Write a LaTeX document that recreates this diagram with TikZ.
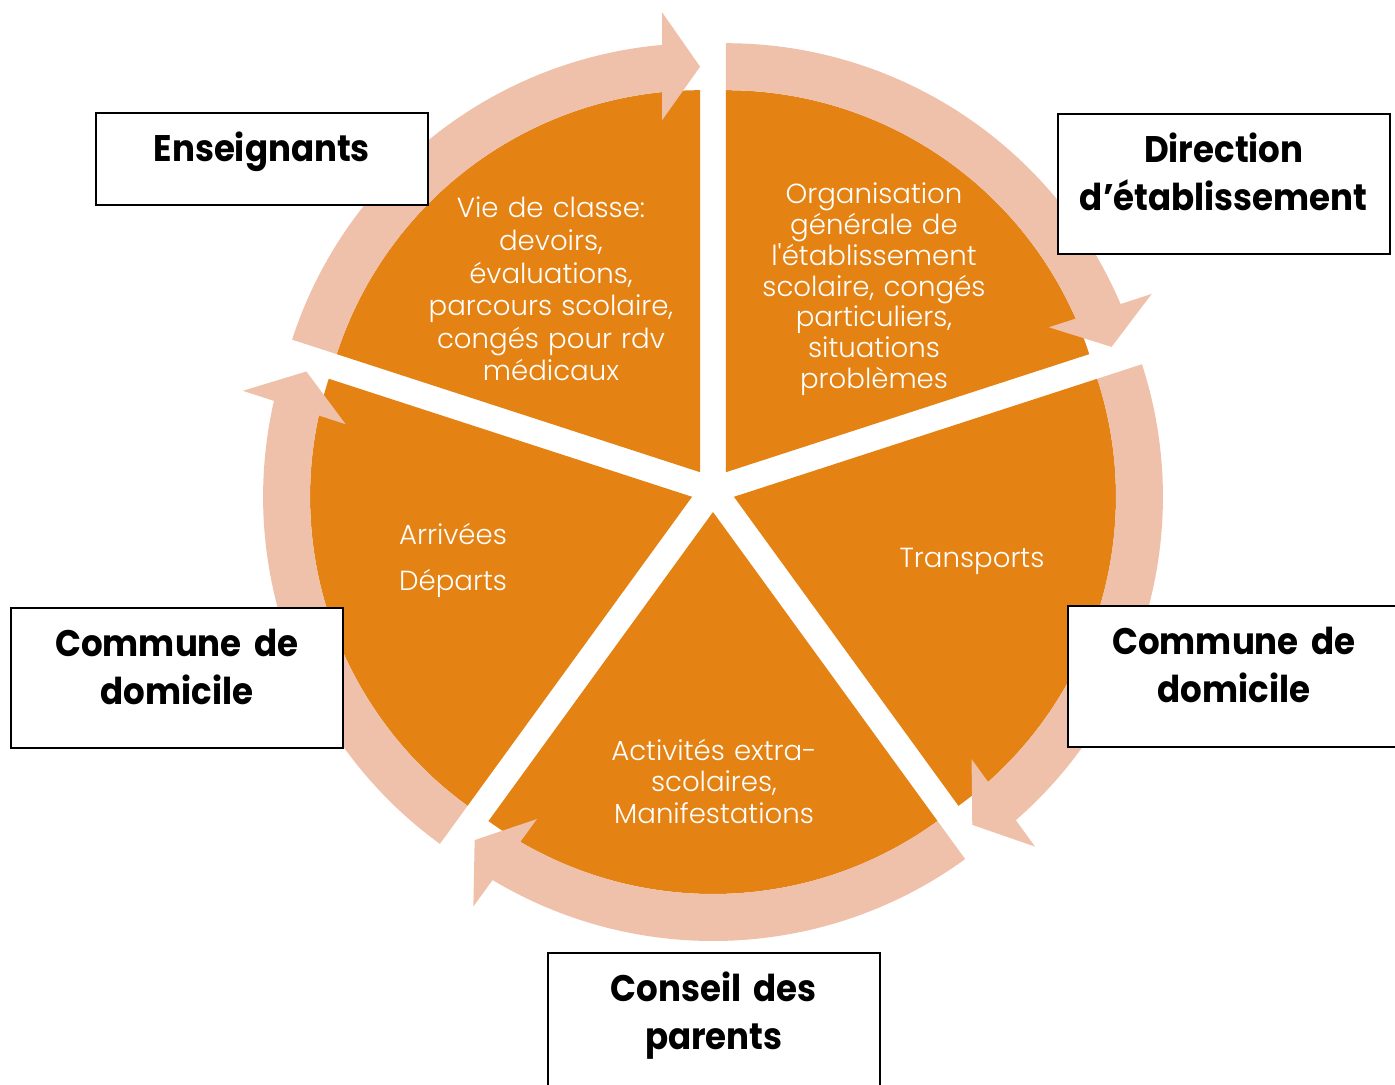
\documentclass[tikz,border=0pt]{standalone}
\usepackage{fontspec}
\setmainfont{Poppins}[Ligatures=TeXOff]
\newfontfamily\lightfont{Poppins Light}[Ligatures=TeXOff]
\newfontfamily\titlefont{Poppins}[Ligatures=TeXOff, FakeStretch=0.92]
\usetikzlibrary{calc}
\definecolor{petalorange}{RGB}{228,131,20}
\definecolor{ringpink}{RGB}{240,193,170}
\def\petal(#1)(#2:#3){\fill[petalorange] (#1) -- ($(#1)+(#2:382)$) arc[start angle=#2, end angle=#3, radius=382] -- cycle;}
\def\ringarrow(#1)(#2:#3){\fill[ringpink] ($(#1)+(#2:382)$) arc[start angle=#2, end angle=#3+5.71, radius=382] -- ($(#1)+(#3:352)+(#3+90:38)$) -- ($(#1)+(#3:405.5)$) -- ($(#1)+(#3:460)+(#3+90:38)$) -- ($(#1)+(#3+5.08:429)$) arc[start angle=#3+5.08, end angle=#2, radius=429] -- cycle;}

\begin{document}
\begin{tikzpicture}[x=0.5pt, y=0.5pt,
		wedgetext/.style={text=white, align=center, text width=180pt, anchor=base, inner sep=0pt},
		titlebox/.style={draw=black, line width=0.8pt, fill=white, anchor=north west, inner sep=0pt, text width=166pt, align=center, text height=24.5pt, font=\titlefont\bfseries\fontsize{18.5}{24}\selectfont}]
		%%%%% START %%%%%
		\useasboundingbox (0,0) rectangle (1395,1084);
		
		\coordinate (mid) at (713,594);
		\coordinate (cTL) at ($(mid)+(126:22)$);
		\coordinate (cTR) at ($(mid)+(54:22)$);
		\coordinate (cR) at ($(mid)+(-18:22)$);
		\coordinate (cB) at ($(mid)+(-90:22)$);
		\coordinate (cL) at ($(mid)+(198:22)$);
		
		\petal(cTL)(90:162);
		\petal(cTR)(18:90);
		\petal(cR)(-54:18);
		\petal(cB)(-126:-54);
		\petal(cL)(162:234);
		
		\ringarrow(cTL)(162:90);
		\ringarrow(cTR)(90:18);
		\ringarrow(cR)(18:-54);
		\ringarrow(cB)(-54:-126);
		\ringarrow(cL)(234:162);
		
		\node[wedgetext, font=\lightfont\fontsize{13.8}{16.25}\selectfont] (classe) at (551,866) {Vie de classe:\\devoirs,\\évaluations,\\parcours scolaire,\\congés pour rdv\\médicaux};
		\node[wedgetext, font=\lightfont\fontsize{13.8}{15.35}\selectfont] (organisation) at (874,880) {Organisation\\générale de\\l'établissement\\scolaire, congés\\particuliers,\\situations\\problèmes};
		\node[wedgetext, font=\lightfont\fontsize{13.8}{16}\selectfont] (transports) at (972,517) {Transports};
		\node[wedgetext, font=\lightfont\fontsize{13.8}{15.75}\selectfont] (activites) at (714,324) {Activités extra-\\scolaires,\\Manifestations};
		\node[wedgetext, font=\lightfont\fontsize{13.8}{23}\selectfont] (arrivees) at (453,540) {Arrivées\\Départs};
		
		\node[titlebox, text depth=21.5pt] (enseignants) at (95,972) {Enseignants};
		\node[titlebox, text depth=45.5pt] (direction) at (1057,971) {Direction\\d’établissement};
		\node[titlebox, text depth=45.5pt] (communeG) at (10,477) {Commune de\\domicile};
		\node[titlebox, text depth=46pt] (communeD) at (1067,479) {Commune de\\domicile};
		\node[titlebox, text depth=45.5pt] (conseil) at (547,132) {Conseil des\\parents};
		
		%%%%% END %%%%%
	\end{tikzpicture}
\end{document}
